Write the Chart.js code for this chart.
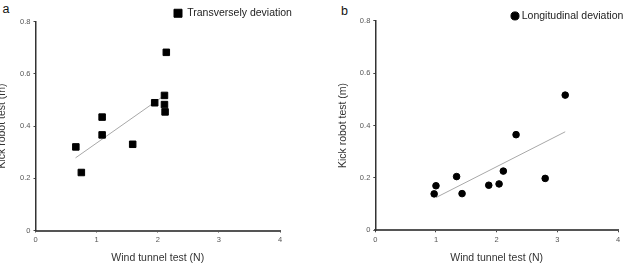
<!DOCTYPE html>
<html>
<head>
<meta charset="utf-8">
<script src="https://cdn.jsdelivr.net/npm/chart.js@4/dist/chart.umd.min.js"></script>
<style>
  html, body { margin: 0; padding: 0; background: #fff; overflow: hidden; }
  body { width: 624px; height: 278px; position: relative; font-family: "Liberation Sans", Arial, sans-serif; }
  canvas { position: absolute; top: 0; }
  .lbl { position: absolute; font-size: 12.5px; line-height: 12.5px; color: #111; }
</style>
</head>
<body>
<div class="lbl" style="left:2.5px; top:2.7px;">a</div>
<div class="lbl" style="left:341px; top:4.5px;">b</div>
<canvas id="chartA" width="342" height="278" style="left:-30px; width:342px; height:278px;"></canvas>
<canvas id="chartB" width="312" height="278" style="left:312px; width:312px; height:278px;"></canvas>
<script>
// ---- Data ----
const transX = [0.66, 0.75, 1.09, 1.09, 1.59, 1.95, 2.11, 2.11, 2.12, 2.14];
const transY = [0.320, 0.222, 0.434, 0.366, 0.330, 0.489, 0.517, 0.482, 0.454, 0.682];
const transTrendX = [0.655, 2.09];
const transTrendY = [0.278, 0.514];

const longX = [0.97, 1.00, 1.34, 1.43, 1.87, 2.04, 2.11, 2.32, 2.80, 3.13];
const longY = [0.139, 0.170, 0.205, 0.140, 0.172, 0.177, 0.226, 0.365, 0.198, 0.516];
const longTrendX = [1.00, 3.13];
const longTrendY = [0.125, 0.376];

const xTicks = [0, 1, 2, 3, 4];
const yTicks = [0, 0.2, 0.4, 0.6, 0.8];
const xTitle = 'Wind tunnel test (N)';
const yTitle = 'Kick robot test (m)';
const labelA = 'Transversely deviation';
const labelB = 'Longitudinal deviation';

const FONT = "'Liberation Sans', Arial, sans-serif";
const LEG_PAD = 10;

const toPts = (xs, ys) => xs.map((x, i) => ({ x: x, y: ys[i] }));

// places the legend at a fixed spot in the canvas
const legendPos = {
  id: 'legendPos',
  afterLayout(chart, args, opts) {
    const lg = chart.legend;
    if (!lg) return;
    lg.left = opts.x - LEG_PAD; lg.right = opts.x + 220;
    lg.top = opts.y - LEG_PAD; lg.bottom = opts.y + 60;
    lg.width = lg.right - lg.left; lg.height = lg.bottom - lg.top;
  }
};

function makeChart(id, cfg) {
  return new Chart(document.getElementById(id), {
    type: 'scatter',
    data: {
      datasets: [
        {
          label: cfg.label,
          data: toPts(cfg.xs, cfg.ys),
          pointStyle: cfg.pointStyle,
          pointRadius: cfg.pointRadius,
          backgroundColor: '#000',
          borderColor: '#000',
          borderWidth: 1,
          order: 0
        },
        {
          label: 'Trend',
          data: toPts(cfg.tx, cfg.ty),
          showLine: true,
          pointRadius: 0,
          borderColor: '#a8a8a8',
          borderWidth: 1,
          order: 1
        }
      ]
    },
    plugins: [legendPos],
    options: {
      responsive: false,
      animation: false,
      devicePixelRatio: 1,
      layout: { padding: { left: 0, right: 0, top: cfg.top, bottom: 0 } },
      plugins: {
        tooltip: { enabled: false },
        legend: {
          position: 'chartArea',
          align: 'start',
          labels: {
            filter: (item) => item.text !== 'Trend',
            usePointStyle: true,
            boxWidth: cfg.boxW,
            boxHeight: cfg.boxH,
            padding: LEG_PAD,
            color: '#222',
            font: { family: FONT, size: 10.5 }
          }
        },
        legendPos: { x: cfg.legX, y: cfg.legY }
      },
      scales: {
        x: {
          type: 'linear',
          min: 0, max: 4,
          afterBuildTicks: (s) => { s.ticks = xTicks.map(v => ({ value: v })); },
          afterFit: (s) => { s.height = cfg.xAxisH; },
          grid: { display: true, drawOnChartArea: false, drawTicks: true, tickLength: 2, color: '#444' },
          border: { display: true, color: '#555', width: 2 },
          ticks: { color: '#555', padding: 3, font: { family: FONT, size: 7.5 } },
          title: { display: true, text: xTitle, color: '#333', font: { family: FONT, size: 10.5 }, padding: { top: 0, bottom: cfg.xTitlePad } }
        },
        y: {
          type: 'linear',
          position: 'left',
          min: 0, max: 0.8,
          afterBuildTicks: (s) => { s.ticks = yTicks.map(v => ({ value: v })); },
          afterFit: (s) => { s.width = cfg.yAxisW; },
          grid: { display: true, drawOnChartArea: false, drawTicks: true, tickLength: 2, color: '#444' },
          border: { display: true, color: '#333', width: 1.5 },
          ticks: { color: '#555', padding: 3, font: { family: FONT, size: 7.5 }, callback: (v) => String(Math.round(v * 10) / 10) },
          title: { display: true, text: yTitle, color: '#333', font: { family: FONT, size: 10.5 }, padding: { top: cfg.yTitlePad, bottom: 0 } }
        },
        yR: {
          type: 'linear',
          position: 'right',
          display: true,
          grid: { display: false },
          border: { display: false },
          ticks: { display: false },
          afterFit: (s) => { s.width = cfg.rightW; }
        }
      }
    }
  });
}

makeChart('chartA', {
  label: labelA, xs: transX, ys: transY, tx: transTrendX, ty: transTrendY,
  pointStyle: 'rect', pointRadius: 4.6,
  boxW: 8, boxH: 8, legX: 204, legY: 8,
  top: 21.5, yAxisW: 65.5, rightW: 32, xAxisH: 47.5,
  xTitlePad: 13.7, yTitlePad: 25.5
});

makeChart('chartB', {
  label: labelB, xs: longX, ys: longY, tx: longTrendX, ty: longTrendY,
  pointStyle: 'circle', pointRadius: 3.3,
  boxW: 3, boxH: 5.7, legX: 201.5, legY: 10.7,
  top: 20.7, yAxisW: 63.3, rightW: 6, xAxisH: 47.7,
  xTitlePad: 13.7, yTitlePad: 25.2
});
</script>
</body>
</html>
